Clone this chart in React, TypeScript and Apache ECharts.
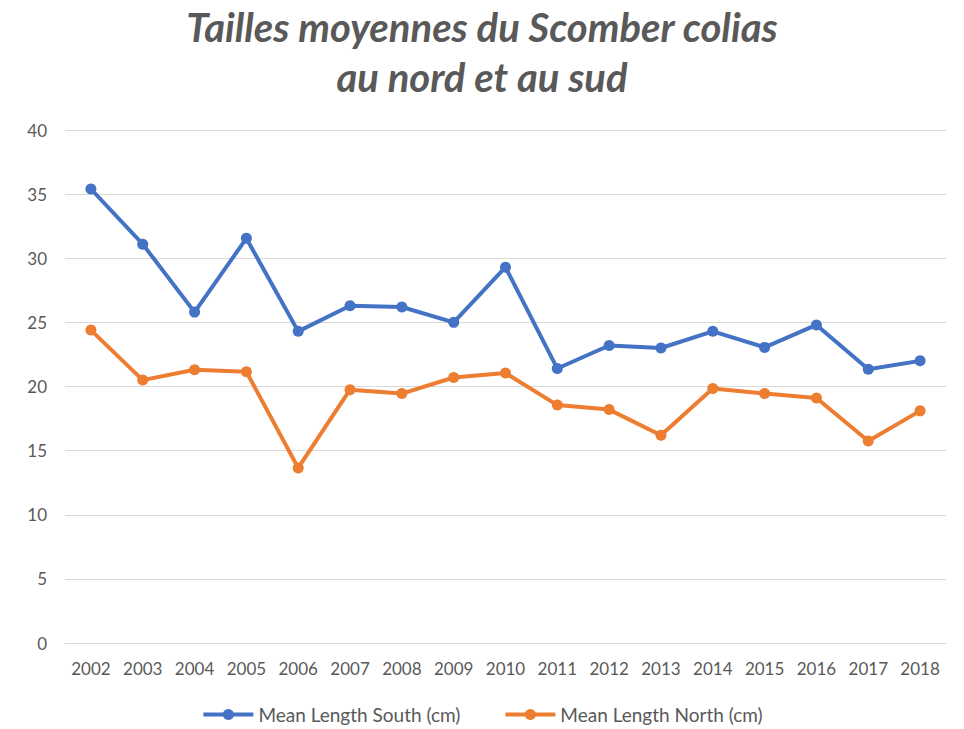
import React, { useEffect, useRef } from "react";
import * as echarts from "echarts";

const years = ["2002","2003","2004","2005","2006","2007","2008","2009","2010","2011","2012","2013","2014","2015","2016","2017","2018"];
const south = [35.4, 31.1, 25.8, 31.55, 24.3, 26.3, 26.2, 25.0, 29.3, 21.4, 23.2, 23.0, 24.3, 23.05, 24.8, 21.35, 22.0];
const north = [24.4, 20.5, 21.3, 21.15, 13.65, 19.75, 19.45, 20.7, 21.05, 18.55, 18.2, 16.2, 19.85, 19.45, 19.1, 15.75, 18.1];
const titleText = "Tailles moyennes du Scomber colias\nau nord et au sud";
const southName = "Mean Length South (cm)";
const northName = "Mean Length North (cm)";

const FONT = "Lato, 'Open Sans', sans-serif";

export default function App() {
  const ref = useRef<HTMLDivElement>(null);
  useEffect(() => {
    if (!ref.current) return;
    const chart = echarts.init(ref.current, undefined, { renderer: "svg" });
    chart.setOption({
      animation: false,
      backgroundColor: "#ffffff",
      title: {
        text: titleText,
        left: "center",
        top: -3,
        textStyle: {
          fontFamily: FONT,
          fontSize: 40,
          fontWeight: "bold",
          fontStyle: "italic",
          color: "#595959",
          lineHeight: 50,
        },
      },
      grid: { left: 65, right: 18, top: 130, bottom: 86 },
      legend: {
        bottom: 0,
        left: "center",
        itemWidth: 50,
        itemHeight: 14,
        itemGap: 43,
        lineStyle: { width: 4 },
        textStyle: { fontFamily: FONT, fontSize: 19, color: "#595959" },
        data: [southName, northName],
      },
      xAxis: {
        type: "category",
        data: years,
        boundaryGap: true,
        axisLine: { show: true, lineStyle: { color: "#d9d9d9", width: 1 } },
        axisTick: { show: false },
        axisLabel: { fontFamily: FONT, fontSize: 17, color: "#595959", margin: 17 },
      },
      yAxis: {
        type: "value",
        min: 0,
        max: 40,
        interval: 5,
        axisLine: { show: false },
        axisTick: { show: false },
        axisLabel: { fontFamily: FONT, fontSize: 17, color: "#595959", margin: 18 },
        splitLine: { lineStyle: { color: "#d9d9d9", width: 1 } },
      },
      series: [
        {
          name: southName,
          type: "line",
          data: south,
          symbol: "circle",
          symbolSize: 11,
          color: "#4472C4",
          lineStyle: { width: 4, color: "#4472C4" },
          itemStyle: { color: "#4472C4" },
        },
        {
          name: northName,
          type: "line",
          data: north,
          symbol: "circle",
          symbolSize: 11,
          color: "#ED7D31",
          lineStyle: { width: 4, color: "#ED7D31" },
          itemStyle: { color: "#ED7D31" },
        },
      ],
    });
    return () => chart.dispose();
  }, []);
  return <div ref={ref} style={{ width: 964, height: 729, position: "absolute", left: 0, top: 0 }} />;
}
